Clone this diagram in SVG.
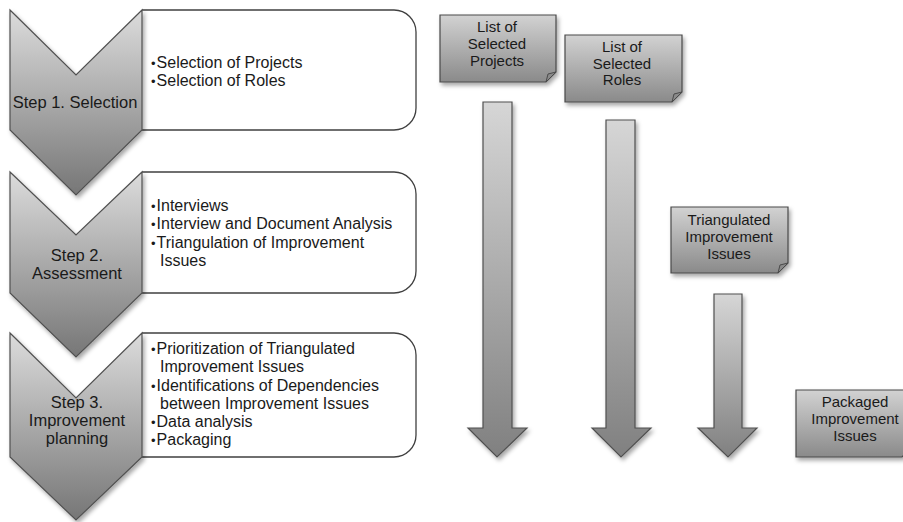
<svg xmlns="http://www.w3.org/2000/svg" width="903" height="522" viewBox="0 0 903 522">
<style>
  text { font-family: "Liberation Sans", Arial, sans-serif; fill: #1a1a1a; }
  .step { font-size: 16.5px; text-anchor: middle; }
  .item { font-size: 16px; }
  .b { font-size: 13px; }
  .doc-t { font-size: 15px; text-anchor: middle; }
  .chev { fill: url(#gChev); stroke: #505050; stroke-width: 1.2; filter: url(#sh); }
  .box { fill: #ffffff; stroke: #404040; stroke-width: 1.3; }
  .doc { fill: url(#gDoc); stroke: #4a4a4a; stroke-width: 1.2; filter: url(#sh); }
  .fold { fill: #8a8a8a; stroke: #4a4a4a; stroke-width: 1; }
  .arr { fill: url(#gArr); stroke: #505050; stroke-width: 1.2; filter: url(#sh); }
</style>
<defs>
  <linearGradient id="gChev" x1="0" y1="0" x2="0" y2="1">
    <stop offset="0" stop-color="#dcdcdc"/>
    <stop offset="1" stop-color="#767676"/>
  </linearGradient>
  <linearGradient id="gDoc" x1="0" y1="0" x2="0" y2="1">
    <stop offset="0" stop-color="#d2d2d2"/>
    <stop offset="1" stop-color="#8a8a8a"/>
  </linearGradient>
  <linearGradient id="gArr" x1="0" y1="0" x2="0" y2="1">
    <stop offset="0" stop-color="#d6d6d6"/>
    <stop offset="1" stop-color="#808080"/>
  </linearGradient>
  <filter id="sh" x="-20%" y="-20%" width="150%" height="150%">
    <feDropShadow dx="2" dy="3" stdDeviation="2" flood-color="#000" flood-opacity="0.35"/>
  </filter>
</defs>
<rect width="903" height="522" fill="#ffffff"/>

<g id="step1">
  <path class="box" d="M142,10 H394 A22,22 0 0 1 416,32 V108 A22,22 0 0 1 394,130 H142"/>
  <path class="chev" d="M10,10 L76,75 L142,10 L142,130 L76,195 L10,130 Z"/>
  <text class="step" x="75" y="108">Step 1. Selection</text>
  <text class="item" x="151" y="68"><tspan class="b">•</tspan><tspan dx="1">Selection of Projects</tspan></text>
  <text class="item" x="151" y="86"><tspan class="b">•</tspan><tspan dx="1">Selection of Roles</tspan></text>
</g>

<g id="step2">
  <path class="box" d="M142,172 H394 A22,22 0 0 1 416,194 V271 A22,22 0 0 1 394,293 H142"/>
  <path class="chev" d="M10,172 L76,235 L142,172 L142,293 L76,357 L10,293 Z"/>
  <text class="step" x="77" y="261">Step 2.</text>
  <text class="step" x="77" y="279">Assessment</text>
  <text class="item" x="151" y="211"><tspan class="b">•</tspan><tspan dx="1">Interviews</tspan></text>
  <text class="item" x="151" y="229"><tspan class="b">•</tspan><tspan dx="1">Interview and Document Analysis</tspan></text>
  <text class="item" x="151" y="248"><tspan class="b">•</tspan><tspan dx="1">Triangulation of Improvement</tspan></text>
  <text class="item" x="160" y="266">Issues</text>
</g>

<g id="step3">
  <path class="box" d="M142,333 H394 A22,22 0 0 1 416,355 V435 A22,22 0 0 1 394,457 H142"/>
  <path class="chev" d="M10,333 L76,398 L142,333 L142,457 L76,520 L10,457 Z"/>
  <text class="step" x="77" y="408">Step 3.</text>
  <text class="step" x="77" y="426">Improvement</text>
  <text class="step" x="77" y="444">planning</text>
  <text class="item" x="151" y="354"><tspan class="b">•</tspan><tspan dx="1">Prioritization of Triangulated</tspan></text>
  <text class="item" x="160" y="372">Improvement Issues</text>
  <text class="item" x="151" y="391"><tspan class="b">•</tspan><tspan dx="1">Identifications of Dependencies</tspan></text>
  <text class="item" x="160" y="409">between Improvement Issues</text>
  <text class="item" x="151" y="427"><tspan class="b">•</tspan><tspan dx="1">Data analysis</tspan></text>
  <text class="item" x="151" y="445"><tspan class="b">•</tspan><tspan dx="1">Packaging</tspan></text>
</g>

<g id="doc-projects">
  <path class="doc" d="M440,15 H556 V72 L546,82 H440 Z"/>
  <path class="fold" d="M556,72 L546,82 L548,74 Z"/>
  <text class="doc-t" x="497" y="32">List of</text>
  <text class="doc-t" x="497" y="49">Selected</text>
  <text class="doc-t" x="497" y="66">Projects</text>
</g>

<g id="doc-roles">
  <path class="doc" d="M565,35 H682 V92 L672,102 H565 Z"/>
  <path class="fold" d="M682,92 L672,102 L674,94 Z"/>
  <text class="doc-t" x="622" y="52">List of</text>
  <text class="doc-t" x="622" y="69">Selected</text>
  <text class="doc-t" x="622" y="85">Roles</text>
</g>

<g id="doc-triangulated">
  <path class="doc" d="M671,207 H788 V263 L778,273 H671 Z"/>
  <path class="fold" d="M788,263 L778,273 L780,265 Z"/>
  <text class="doc-t" x="729" y="225">Triangulated</text>
  <text class="doc-t" x="729" y="242">Improvement</text>
  <text class="doc-t" x="729" y="259">Issues</text>
</g>

<g id="doc-packaged">
  <path class="doc" d="M796,390 H912 V447 L902,457 H796 Z"/>
  <text class="doc-t" x="855" y="407">Packaged</text>
  <text class="doc-t" x="855" y="424">Improvement</text>
  <text class="doc-t" x="855" y="441">Issues</text>
</g>

<g id="connectors">
  <path class="arr" d="M483,102 H512 V428 H527 L497,457 L468,428 H483 Z"/>
  <path class="arr" d="M606,120 H635 V428 H651 L621,457 L592,428 H606 Z"/>
  <path class="arr" d="M714,294 H742 V428 H757 L728,457 L698,428 H714 Z"/>
</g>
</svg>
